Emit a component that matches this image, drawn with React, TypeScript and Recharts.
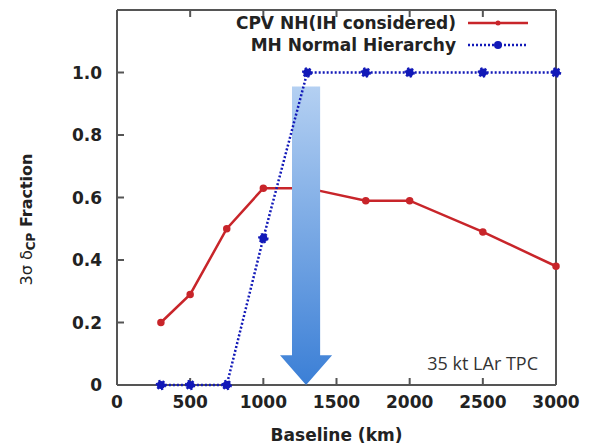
import { Legend, Line, LineChart, ReferenceArea, XAxis, YAxis } from 'recharts'

const baselines = [300, 500, 750, 1000, 1300, 1700, 2000, 2500, 3000]
const cpvFraction = [0.2, 0.29, 0.5, 0.63, 0.63, 0.59, 0.59, 0.49, 0.38]
const mhFraction = [0, 0, 0, 0.47, 1.0, 1.0, 1.0, 1.0, 1.0]
const xTicks = [0, 500, 1000, 1500, 2000, 2500, 3000]
const yTicks = [0, 0.2, 0.4, 0.6, 0.8, 1.0]
const seriesNames = ['CPV NH(IH considered)', 'MH Normal Hierarchy']

// arrow annotation, in data units
const arrowX = [1114, 1470]
const arrowY = [0, 0.955]

const data = baselines.map((b, i) => ({ b, cpv: cpvFraction[i], mh: mhFraction[i] }))

const RED = '#c8252a'
const BLUE = '#1219b8'
const FRAME = '#555'
const font = '"DejaVu Sans", sans-serif'
const tickStyle = { fontFamily: font, fontWeight: 700, fontSize: 17, fill: '#222' }

function Arrow(props: any) {
  const { x, y, width, height } = props
  const shaftW = width * 0.54
  const headH = height * 0.1
  const cx = x + width / 2
  const pts = [
    [cx - shaftW / 2, y],
    [cx + shaftW / 2, y],
    [cx + shaftW / 2, y + height - headH],
    [x + width, y + height - headH],
    [cx, y + height],
    [x, y + height - headH],
    [cx - shaftW / 2, y + height - headH],
  ]
  return (
    <g>
      <defs>
        <linearGradient id="arrowFill" x1="0" y1="0" x2="0" y2="1">
          <stop offset="0%" stopColor="#b4d0f2" />
          <stop offset="100%" stopColor="#3b7fd6" />
        </linearGradient>
      </defs>
      <polygon points={pts.map((p) => p.join(',')).join(' ')} fill="url(#arrowFill)" />
    </g>
  )
}

function YLabel(props: any) {
  const { viewBox } = props
  const cx = viewBox.x + 27
  const cy = viewBox.y + viewBox.height / 2 + 22
  return (
    <text
      x={cx}
      y={cy}
      transform={`rotate(-90 ${cx} ${cy})`}
      textAnchor="middle"
      dominantBaseline="middle"
      fontFamily={font}
      fontSize={16}
      fill="#222"
    >
      <tspan>3σ  δ</tspan>
      <tspan fontSize={12} fontWeight={700} dy={4}>CP</tspan>
      <tspan fontWeight={700} dy={-4}> Fraction</tspan>
    </text>
  )
}

function LegendBox() {
  const rows = [
    { name: seriesNames[0], color: RED, dash: undefined, r: 2.5 },
    { name: seriesNames[1], color: BLUE, dash: '2 2', r: 4 },
  ]
  return (
    <div>
      {rows.map((row) => (
        <div
          key={row.name}
          style={{ display: 'flex', justifyContent: 'flex-end', alignItems: 'center', height: 22 }}
        >
          <span style={{ fontFamily: font, fontWeight: 700, fontSize: 17, color: '#222' }}>
            {row.name}
          </span>
          <svg width={76} height={22}>
            <line x1={12} x2={72} y1={11} y2={11} stroke={row.color} strokeWidth={2.5} strokeDasharray={row.dash} />
            <circle cx={42} cy={11} r={row.r} fill={row.color} />
          </svg>
        </div>
      ))}
    </div>
  )
}

export default function App() {
  return (
    <div style={{ position: 'absolute', left: 0, top: 0, background: '#fff' }}>
      <LineChart width={596} height={445} data={data} margin={{ top: 9, right: 39, bottom: 0, left: 0 }}>
        <XAxis
          dataKey="b"
          type="number"
          domain={[0, 3000]}
          ticks={xTicks}
          tickSize={-7}
          tickMargin={18}
          height={60}
          tick={tickStyle}
          stroke={FRAME}
          strokeWidth={2}
          label={{ value: 'Baseline (km)', position: 'insideBottom', offset: 4, style: { ...tickStyle, fontSize: 17 } }}
        />
        <XAxis
          xAxisId="top"
          orientation="top"
          dataKey="b"
          type="number"
          domain={[0, 3000]}
          ticks={xTicks}
          tickSize={-7}
          tickFormatter={() => ''}
          height={1}
          stroke={FRAME}
          strokeWidth={2}
        />
        <YAxis
          type="number"
          domain={[0, 1.2]}
          ticks={yTicks}
          tickSize={-7}
          tickMargin={22}
          width={117}
          tick={tickStyle}
          tickFormatter={(v: number) => (v === 0 ? '0' : v.toFixed(1))}
          stroke={FRAME}
          strokeWidth={2}
          label={{ content: YLabel }}
        />
        <YAxis
          yAxisId="right"
          orientation="right"
          type="number"
          domain={[0, 1.2]}
          ticks={yTicks}
          tickSize={-7}
          tickFormatter={() => ''}
          width={1}
          stroke={FRAME}
          strokeWidth={2}
        />
        <Line
          dataKey="cpv"
          name={seriesNames[0]}
          stroke={RED}
          strokeWidth={2.5}
          dot={{ r: 2.5, fill: RED, stroke: RED }}
          isAnimationActive={false}
          zIndex={400}
        />
        <ReferenceArea
          x1={arrowX[0]}
          x2={arrowX[1]}
          y1={arrowY[0]}
          y2={arrowY[1]}
          shape={Arrow}
          zIndex={700}
        />
        <Line
          dataKey="mh"
          name={seriesNames[1]}
          stroke={BLUE}
          strokeWidth={2.5}
          strokeDasharray="2 2"
          dot={{ r: 4, fill: BLUE, stroke: BLUE }}
          isAnimationActive={false}
          zIndex={800}
        />
        <Legend
          layout="horizontal"
          verticalAlign="middle"
          align="center"
          content={() => <LegendBox />}
          wrapperStyle={{ top: 12, left: 150, width: 382 }}
        />
        <text x={538} y={365} textAnchor="end" dominantBaseline="middle" fontFamily='"Open Sans", sans-serif' fontSize={18} fill="#333">
          35 kt LAr TPC
        </text>
      </LineChart>
    </div>
  )
}
